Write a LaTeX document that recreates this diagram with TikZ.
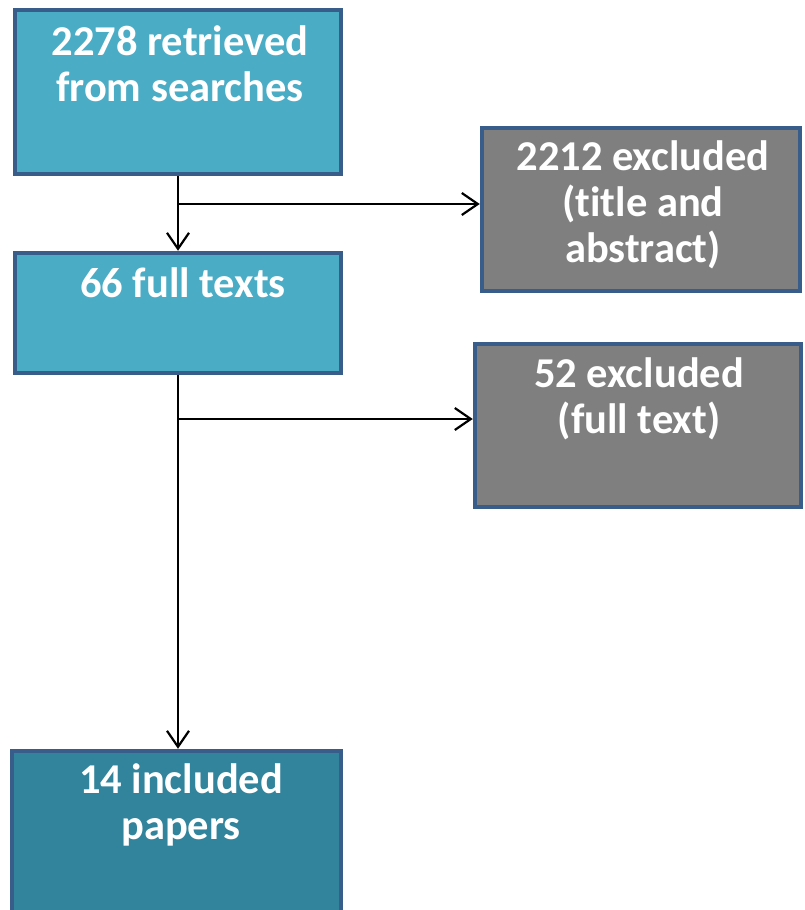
\documentclass[tikz,border=0pt]{standalone}
\usepackage{fontspec}
\setmainfont[Ligatures={NoCommon}]{Carlito}
\usetikzlibrary{arrows.meta}
\definecolor{boxline}{HTML}{385D8A}
\definecolor{lightteal}{HTML}{4BACC6}
\definecolor{darkteal}{HTML}{31849B}
\definecolor{greybox}{HTML}{7F7F7F}
\tikzset{
  box/.style={draw=boxline, line width=4.5pt, rectangle, inner sep=0pt},
  lbox/.style={box, fill=lightteal},
  dbox/.style={box, fill=darkteal},
  gbox/.style={box, fill=greybox},
  boxtext/.style={anchor=base, inner sep=0pt, align=center, text=white,
    font=\fontsize{42.5}{46}\selectfont\bfseries},
  conn/.style={draw=black, line width=2.2pt, -{Straight Barb[length=16pt,width=22pt,line width=2.2pt]}}
}
\begin{document}
\begin{tikzpicture}[x=1pt,y=-1pt]
\useasboundingbox (0,0) rectangle (804,910);
% boxes
\node[lbox, minimum width=326pt, minimum height=164pt] (b1) at (178,92) {};
\node[lbox, minimum width=326pt, minimum height=120pt] (b2) at (178,313) {};
\node[gbox, minimum width=318pt, minimum height=163pt] (b3) at (641,209.5) {};
\node[gbox, minimum width=326pt, minimum height=163pt] (b4) at (638,425.5) {};
\node[dbox, minimum width=329pt, minimum height=178pt] (b5) at (176.5,840) {};
% texts (anchor base = baseline of the last line)
\node[boxtext] (t1) at (180,101) {2278 retrieved\\from searches};
\node[boxtext] (t2) at (183,297) {66 full texts};
\node[boxtext] (t3) at (643,262) {2212 excluded\\(title and\\abstract)};
\node[boxtext] (t4) at (639,433) {52 excluded\\(full text)};
\node[boxtext] (t5) at (181,839) {14 included\\papers};
% connectors
\coordinate (j1) at (178,204);
\coordinate (j2) at (178,419);
\draw[conn] (b1.south) -- (b2.north);
\draw[conn] (j1) -- (j1 -| b3.west);
\draw[conn] (b2.south) -- (b2.south |- b5.north);
\draw[conn] (j2) -- (j2 -| b4.west);
\end{tikzpicture}
\end{document}
